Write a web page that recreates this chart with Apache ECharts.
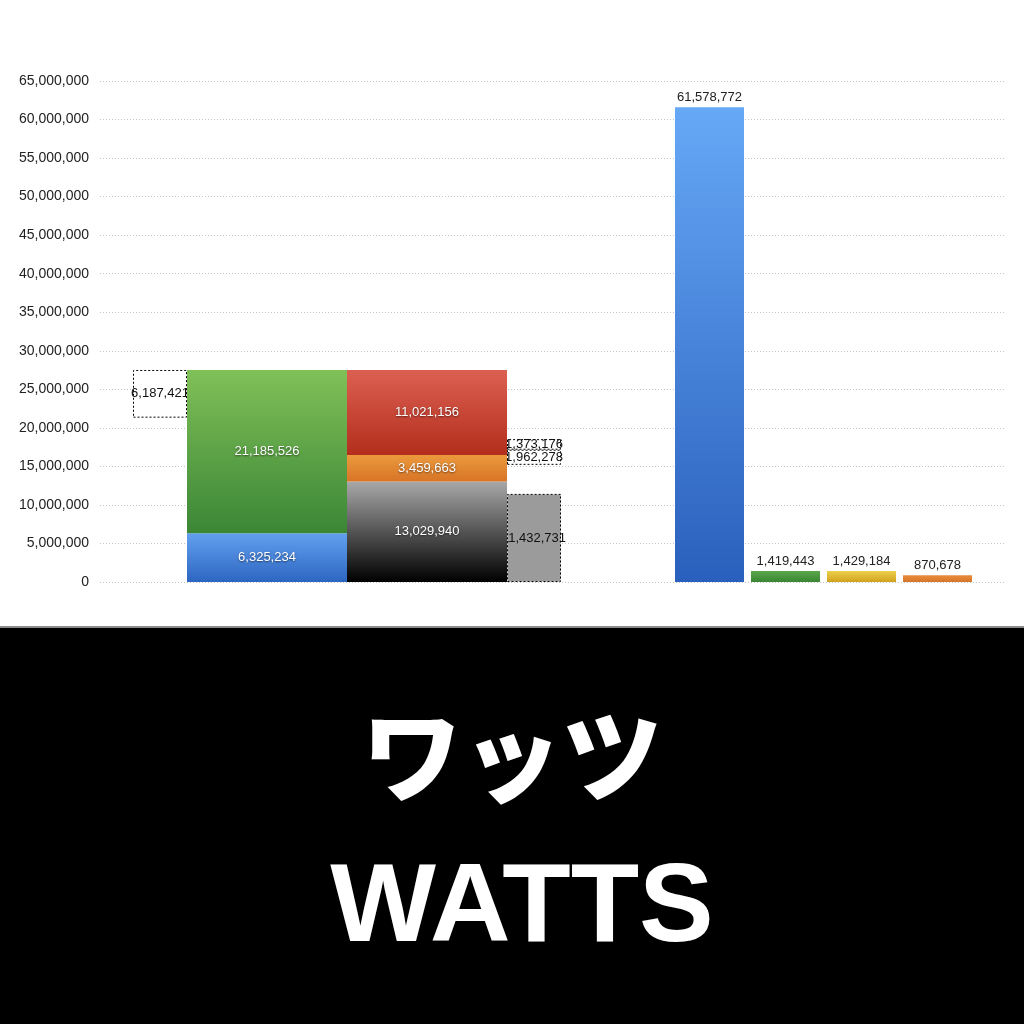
<!DOCTYPE html>
<html>
<head>
<meta charset="utf-8">
<script src="https://cdn.jsdelivr.net/npm/echarts@6/dist/echarts.min.js"></script>
<style>
    html, body { margin: 0; padding: 0; background: #fff; }
    #chart { width: 1024px; height: 1024px; }
</style>
</head>
<body>
<div id="chart"></div>
<script>
// 数据
var yTicks = { min: 0, max: 65000000, interval: 5000000 };
var leftCats = ['', ''];
var blueGreen = [6325234, 21185526];            // 左柱：蓝、绿
var blackOrangeRed = [13029940, 3459663, 11021156]; // 中柱：黑、橙、红
var dashedLeft = 6187421;
var grayBar = 11432731;
var smallBoxes = [1962278, 1373176];            // 下、上
var floatBase = [21323339, 3767269];            // 浮动框下方留空（估计）
var rightCats = ['', '', '', ''];
var rightValues = [61578772, 1419443, 1429184, 870678];

(function() {
    var myChart = echarts.init(document.getElementById('chart'));

    function grad(top, bottom) {
        return new echarts.graphic.LinearGradient(0, 0, 0, 1, [
            { offset: 0, color: top },
            { offset: 1, color: bottom }
        ]);
    }
    function fmt(v) {
        return Number(v).toLocaleString('en-US');
    }
    // 柱内白字
    var innerLabel = {
        show: true,
        position: 'inside',
        color: '#fff',
        fontSize: 13,
        fontFamily: 'Liberation Sans, Arial, sans-serif',
        textShadowColor: 'rgba(0,0,0,0.55)',
        textShadowBlur: 2,
        textShadowOffsetY: 1,
        formatter: function(p) { return fmt(p.value); }
    };
    var darkLabel = {
        show: true,
        position: 'inside',
        color: '#111',
        fontSize: 13,
        fontFamily: 'Liberation Sans, Arial, sans-serif',
        formatter: function(p) { return fmt(p.value); }
    };
    var dashed = {
        borderColor: '#000',
        borderWidth: 1,
        borderType: [2, 2]
    };
    var hiddenY = function(idx) {
        return {
            gridIndex: idx, type: 'value',
            min: yTicks.min, max: yTicks.max, interval: yTicks.interval,
            show: false
        };
    };
    var pad = function(v, i, n) {
        var arr = [];
        for (var k = 0; k < n; k++) arr.push(k === i ? v : '-');
        return arr;
    };
    // 虚线框和灰柱用第4个网格（两个类目在两端）
    var boxSeries = function(name, value, idx, style, label) {
        var s = { name: name, type: 'bar', xAxisIndex: 3, yAxisIndex: 3, stack: 'AC', barWidth: 54,
                  clip: false, z: 2, itemStyle: style, data: pad(value, idx, 2) };
        if (label) s.label = label; else s.silent = true;
        return s;
    };
    var stackSeries = function(name, value, idx, top, bottom) {
        return { name: name, type: 'bar', xAxisIndex: 1, yAxisIndex: 1, stack: 'B', barWidth: 160, z: 3,
                 itemStyle: { color: grad(top, bottom) }, label: innerLabel, data: pad(value, idx, 2) };
    };

    var series = [
        boxSeries('baseA', floatBase[0], 0, { color: 'transparent' }),
        boxSeries('dashA', dashedLeft, 0, Object.assign({ color: '#fff' }, dashed), darkLabel),
        boxSeries('gray', grayBar, 1, Object.assign({ color: '#9b9b9b' }, dashed), darkLabel),
        boxSeries('baseC', floatBase[1], 1, { color: 'transparent' }),
        boxSeries('boxLow', smallBoxes[0], 1, Object.assign({ color: '#fff' }, dashed), darkLabel),
        boxSeries('boxHigh', smallBoxes[1], 1, Object.assign({ color: '#fff' }, dashed), darkLabel),

        stackSeries('blue', blueGreen[0], 0, '#62a0ee', '#2d66c2'),
        stackSeries('green', blueGreen[1], 0, '#80c058', '#3b8636'),
        stackSeries('black', blackOrangeRed[0], 1, '#a8a8a8', '#000000'),
        stackSeries('orange', blackOrangeRed[1], 1, '#eb9a3e', '#d87426'),
        stackSeries('red', blackOrangeRed[2], 1, '#dc6052', '#b32e1c'),

        // 右侧四根柱
        { name: 'right', type: 'bar', xAxisIndex: 2, yAxisIndex: 2, barWidth: 69,
          label: {
              show: true, position: 'top', distance: 3, color: '#222', fontSize: 13,
              fontFamily: 'Liberation Sans, Arial, sans-serif',
              formatter: function(p) { return fmt(p.value); }
          },
          data: rightValues.map(function(v, i) {
              var cols = [
                  grad('#66a8f6', '#2a60bd'),
                  grad('#5aa84a', '#3a8634'),
                  grad('#ecd04e', '#d2a21e'),
                  grad('#ea8c3c', '#d6752a')
              ];
              return { value: v, itemStyle: { color: cols[i] } };
          }) }
    ];

    var option = {
        backgroundColor: '#fff',
        animation: false,
        grid: [
            { left: 100, width: 905, top: 81, height: 501 },
            { left: 187, width: 320, top: 81, height: 501 },
            { left: 671.5, width: 304, top: 81, height: 501 },
            { left: 160, width: 374, top: 81, height: 501 }
        ],
        xAxis: [
            { gridIndex: 0, type: 'category', data: [''], show: false },
            { gridIndex: 1, type: 'category', data: leftCats, show: false },
            { gridIndex: 2, type: 'category', data: rightCats, show: false },
            { gridIndex: 3, type: 'category', data: leftCats, boundaryGap: false, show: false }
        ],
        yAxis: [
            {
                gridIndex: 0, type: 'value',
                min: yTicks.min, max: yTicks.max, interval: yTicks.interval,
                axisLine: { show: false },
                axisTick: { show: false },
                axisLabel: {
                    color: '#222', fontSize: 14, margin: 11,
                    fontFamily: 'Liberation Sans, Arial, sans-serif',
                    formatter: function(v) { return fmt(v); }
                },
                splitLine: { lineStyle: { color: '#c4c4c4', type: [1, 2] } }
            },
            hiddenY(1),
            hiddenY(2),
            hiddenY(3)
        ],
        series: series,
        graphic: [
            { type: 'rect', left: 0, top: 626, shape: { width: 1024, height: 2 },
              style: { fill: '#8a8a8a' }, z: 100 },
            { type: 'rect', left: 0, top: 628, shape: { width: 1024, height: 396 },
              style: { fill: '#000' }, z: 100 },
            { type: 'text', x: 512, y: 756, z: 101,
              style: { text: 'ワッツ', fill: '#fff', align: 'center', verticalAlign: 'middle',
                       font: '900 100px "Noto Sans CJK JP", sans-serif' } },
            { type: 'text', x: 522, y: 910, z: 101,
              style: { text: 'WATTS', fill: '#fff', align: 'center', verticalAlign: 'middle',
                       font: 'bold 112px "Liberation Sans", Arial, sans-serif' } }
        ]
    };
    myChart.setOption(option);
    window.addEventListener('resize', function() {
        myChart.resize();
    });
})();
</script>
</body>
</html>
